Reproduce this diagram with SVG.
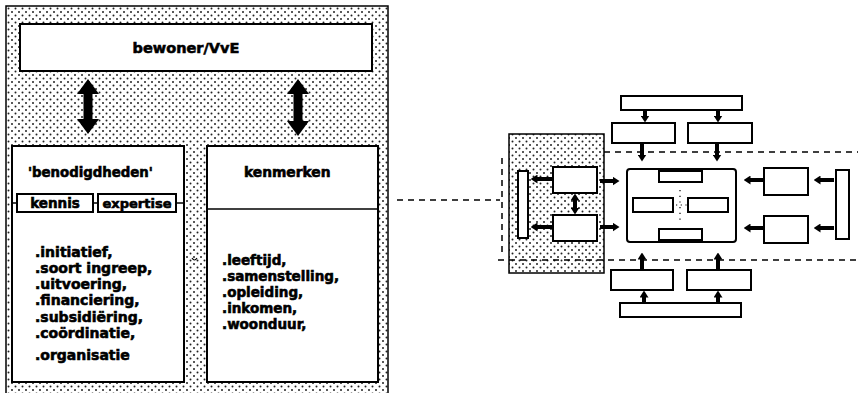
<svg xmlns="http://www.w3.org/2000/svg" width="858" height="393" viewBox="0 0 858 393">
<defs>
<pattern id="dots" width="7" height="7" patternUnits="userSpaceOnUse">
<rect width="7" height="7" fill="#fff"/>
<circle cx="1.5" cy="1.5" r="1" fill="#222"/>
<circle cx="5" cy="5" r="1" fill="#222"/>
</pattern>
<marker id="big" viewBox="0 0 15 22" refX="1" refY="11" markerWidth="15" markerHeight="22" markerUnits="userSpaceOnUse" orient="auto-start-reverse">
<path d="M0,0 L15,11 L0,22 z" fill="#000"/>
</marker>
<marker id="ah" viewBox="0 0 7 9" refX="0.5" refY="4.5" markerWidth="7" markerHeight="9" markerUnits="userSpaceOnUse" orient="auto-start-reverse">
<path d="M0,0 L7,4.5 L0,9 z" fill="#000"/>
</marker>
</defs>
<style>
text{font-family:"DejaVu Sans","Liberation Sans",Arial,sans-serif;font-weight:bold;fill:#000;stroke:#000;stroke-width:0.6}
.box{fill:#fff;stroke:#000;stroke-width:2}
.thin{fill:none;stroke:#000;stroke-width:1.5}
.big{stroke:#000;stroke-width:9;marker-start:url(#big);marker-end:url(#big)}
.arr{stroke:#000;stroke-width:4;marker-end:url(#ah)}
.dbl{stroke:#000;stroke-width:4;marker-start:url(#ah);marker-end:url(#ah)}
.dash{fill:none;stroke:#000;stroke-width:1.5;stroke-dasharray:6 5}
.lst{font-size:14px}
.lst2{font-size:13.5px}
</style>
<rect width="858" height="393" fill="#fff"/>

<!-- left panel -->
<g id="panel">
<rect x="6" y="6" width="382" height="392" fill="url(#dots)" stroke="#000" stroke-width="1.5"/>
</g>
<g id="bewoner">
<rect class="box" x="20" y="24" width="352" height="47"/>
<text x="186" y="53" font-size="14.5" text-anchor="middle">bewoner/VvE</text>
</g>
<g id="benodigdheden">
<rect class="box" x="12" y="146" width="172" height="236"/>
<text x="28" y="177" font-size="13.3">'benodigdheden'</text>
<line x1="12" y1="203" x2="184" y2="203" stroke="#000" stroke-width="1.5"/>
<g id="kennis">
<rect class="box" x="17" y="194" width="76" height="18"/>
<text x="55" y="208" font-size="13.5" text-anchor="middle">kennis</text>
</g>
<g id="expertise">
<rect class="box" x="98" y="194" width="78" height="18"/>
<text x="137" y="208" font-size="13" text-anchor="middle">expertise</text>
</g>
<text class="lst" x="35" y="257">.initiatief,</text>
<text class="lst" x="35" y="273">.soort ingreep,</text>
<text class="lst" x="35" y="289">.uitvoering,</text>
<text class="lst" x="35" y="305">.financiering,</text>
<text class="lst" x="35" y="322">.subsidiëring,</text>
<text class="lst" x="35" y="338">.coördinatie,</text>
<text class="lst" x="35" y="360">.organisatie</text>
</g>
<g id="kenmerken">
<rect class="box" x="207" y="146" width="171" height="236"/>
<text x="244" y="177" font-size="13.8">kenmerken</text>
<line x1="207" y1="209" x2="378" y2="209" stroke="#000" stroke-width="1.5"/>
<text class="lst2" x="222" y="265">.leeftijd,</text>
<text class="lst2" x="222" y="281">.samenstelling,</text>
<text class="lst2" x="222" y="297">.opleiding,</text>
<text class="lst2" x="222" y="313">.inkomen,</text>
<text class="lst2" x="222" y="329">.woonduur,</text>
</g>
<path d="M192,258 Q194.5,262 197,258" fill="none" stroke="#000" stroke-width="1.2"/>

<!-- right diagram -->
<g id="region">
<line class="dash" x1="604" y1="152" x2="858" y2="152"/>
<line class="dash" x1="502" y1="158" x2="502" y2="256"/>
</g>
<g id="dotted-group">
<rect x="509" y="134" width="95" height="139" fill="url(#dots)" stroke="#000" stroke-width="1.5"/>
<rect class="box" x="518" y="171" width="10" height="67"/>
<rect class="box" x="553" y="167" width="44" height="26"/>
<rect class="box" x="553" y="215" width="44" height="26"/>
</g>
<line class="dash" x1="498" y1="260" x2="858" y2="260"/>
<g id="top-bar"><rect class="box" x="621" y="96" width="121" height="14"/></g>
<g id="top-left"><rect class="box" x="612" y="123" width="63" height="20"/></g>
<g id="top-right"><rect class="box" x="688" y="123" width="64" height="20"/></g>
<g id="center">
<rect class="box" x="627" y="169" width="109" height="73" rx="3"/>
<rect class="box" x="659" y="171" width="43" height="11"/>
<rect class="box" x="659" y="229" width="43" height="11"/>
<rect class="box" x="633" y="198" width="40" height="14"/>
<rect class="box" x="688" y="198" width="40" height="14"/>
<line x1="680" y1="190" x2="680" y2="223" stroke="#000" stroke-width="1.2" stroke-dasharray="1.2 4.5"/>
<line x1="676" y1="205" x2="688" y2="205" stroke="#000" stroke-width="1.2" stroke-dasharray="1.2 3.5"/>
</g>
<g id="right-top"><rect class="box" x="764" y="168" width="44" height="27"/></g>
<g id="right-bottom"><rect class="box" x="764" y="216" width="44" height="27"/></g>
<g id="right-bar"><rect class="box" x="836" y="170" width="13" height="69"/></g>
<g id="bottom-left"><rect class="box" x="611" y="270" width="62" height="20"/></g>
<g id="bottom-right"><rect class="box" x="687" y="270" width="64" height="20"/></g>
<g id="bottom-bar"><rect class="box" x="620" y="303" width="121" height="14"/></g>

<g id="connectors">
<line class="big" x1="88" y1="93" x2="88" y2="120"/>
<line class="big" x1="298" y1="93" x2="298" y2="122"/>
<line class="dash" x1="397" y1="200" x2="500" y2="200"/>
<line class="arr" x1="645" y1="110" x2="645" y2="116"/>
<line class="arr" x1="718" y1="110" x2="718" y2="116"/>
<line class="arr" x1="642" y1="143" x2="642" y2="155"/>
<line class="arr" x1="717" y1="143" x2="717" y2="155"/>
<line class="arr" x1="553" y1="179" x2="537" y2="179"/>
<line class="arr" x1="553" y1="227" x2="537" y2="227"/>
<line class="dbl" x1="575" y1="200" x2="575" y2="208"/>
<line class="arr" x1="600" y1="181" x2="613" y2="181"/>
<line class="arr" x1="600" y1="227" x2="613" y2="227"/>
<line class="arr" x1="764" y1="180" x2="750" y2="180"/>
<line class="arr" x1="764" y1="228" x2="750" y2="228"/>
<line class="arr" x1="834" y1="180" x2="820" y2="180"/>
<line class="arr" x1="834" y1="228" x2="820" y2="228"/>
<line class="arr" x1="644" y1="303" x2="644" y2="297"/>
<line class="arr" x1="718" y1="303" x2="718" y2="297"/>
<line class="arr" x1="642" y1="270" x2="642" y2="259"/>
<line class="arr" x1="718" y1="270" x2="718" y2="259"/>
</g>
</svg>
